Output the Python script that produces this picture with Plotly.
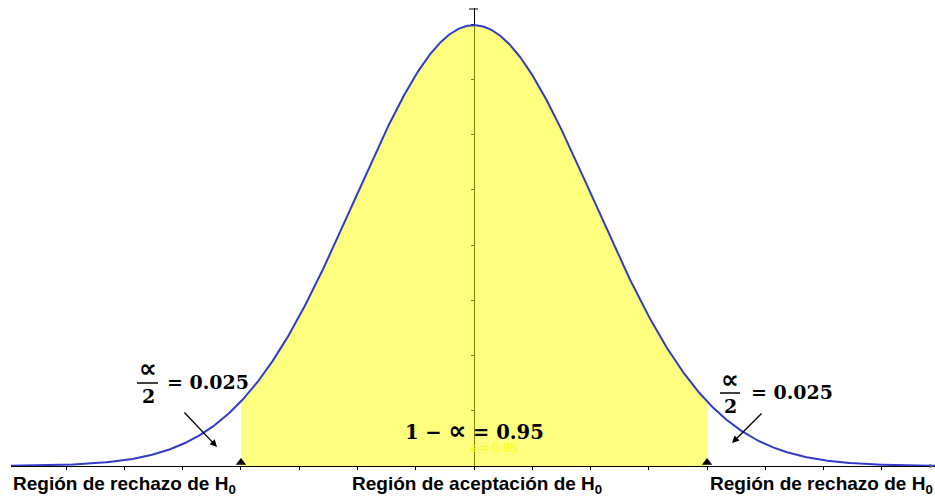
import numpy as np
import plotly.graph_objects as go

# ---- data ----
mu = 0.0
sigma = 1.0
z_crit = 1.96
alpha = 0.05
x_min, x_max = -3.894, 3.877
x_tick_step = 0.49
y_tick_step = 0.05
y_top = 0.4145
label_left = "Región de rechazo de H<sub>0</sub>"
label_mid = "Región de aceptación de H<sub>0</sub>"
label_right = "Región de rechazo de H<sub>0</sub>"
eq_tail = "= 0.025"
PROP = "<span style='font-family:DejaVu Sans;font-size:25px'>∝</span>"
eq_mid = "1 − " + PROP + " = 0.95"
small_note = "a = 0.95"

x_all = np.linspace(x_min, x_max, 800)
pdf_all = np.exp(-0.5 * ((x_all - mu) / sigma) ** 2) / (sigma * np.sqrt(2 * np.pi))
x_acc = np.linspace(-z_crit, z_crit, 500)
pdf_acc = np.exp(-0.5 * ((x_acc - mu) / sigma) ** 2) / (sigma * np.sqrt(2 * np.pi))

# pixel helpers for label placement (plot area: x 11..935, y 8..466)
X0, UX, Y0, UY = 474.0, 118.9, 466.0, 1105.0
def px(x):
    return (x - X0) / UX
def py(y):
    return (Y0 - y) / UY
def ppx(x):
    return (x - 11) / 924.0
def ppy(y):
    return (466 - y) / 458.0

fig = go.Figure()
fig.add_trace(go.Scatter(x=x_acc, y=pdf_acc, mode="lines", line=dict(width=0),
                         fill="tozeroy", fillcolor="rgba(255,255,0,0.5)",
                         hoverinfo="skip", showlegend=False))
fig.add_trace(go.Scatter(x=x_all, y=pdf_all, mode="lines",
                         line=dict(color="rgb(48,60,200)", width=2),
                         showlegend=False, cliponaxis=False))
fig.add_trace(go.Scatter(x=[-z_crit, z_crit], y=[py(462.5), py(462.5)], mode="markers",
                         marker=dict(symbol="triangle-up", size=9, color="black"),
                         showlegend=False, cliponaxis=False))

SERIF = "DejaVu Serif"
ann = []
def txt(x, y, t, size=19, family=SERIF, xanchor="center", color="black", bold=True):
    ann.append(dict(x=ppx(x), y=ppy(y), xref="paper", yref="paper",
                    text=(f"<b>{t}</b>" if bold else t),
                    showarrow=False, xanchor=xanchor, yanchor="middle",
                    font=dict(family=family, size=size, color=color)))

# middle equation
txt(474, 430, eq_mid, size=19.5)
# left fraction
txt(148, 368, PROP)
txt(148, 396, "2")
txt(165, 382, eq_tail, xanchor="left")
# right fraction
txt(730, 379, PROP)
txt(730, 406, "2")
txt(749, 392, eq_tail, xanchor="left")
# tiny note
txt(493, 447, small_note, size=13, family="Liberation Sans", color="rgb(255,255,0)", bold=False)
# bottom labels
SANS = "Liberation Sans"
txt(11, 485, label_left, size=19, family=SANS, xanchor="left")
txt(477, 485, label_mid, size=19, family=SANS)
txt(708, 485, label_right, size=19, family=SANS, xanchor="left")

# arrows
ann.append(dict(x=px(217), y=py(447), ax=px(183), ay=py(411), xref="x", yref="y",
                axref="x", ayref="y", showarrow=True, arrowhead=2, arrowsize=1.1,
                arrowwidth=1.3, arrowcolor="black", standoff=0, text=""))
ann.append(dict(x=px(732), y=py(443), ax=px(763), ay=py(412), xref="x", yref="y",
                axref="x", ayref="y", showarrow=True, arrowhead=2, arrowsize=1.1,
                arrowwidth=1.3, arrowcolor="black", standoff=0, text=""))
# x-axis end arrow
ann.append(dict(x=1.0, y=0, ax=-6, ay=0, xref="paper", yref="paper",
                showarrow=True, arrowhead=2, arrowsize=0.9,
                arrowwidth=1, arrowcolor="rgb(80,90,150)", standoff=0, text=""))

shapes = [
    dict(type="line", xref="x", yref="y", x0=px(137), x1=px(158), y0=py(383), y1=py(383),
         line=dict(color="black", width=1.5)),
    dict(type="line", xref="x", yref="y", x0=px(720), x1=px(740), y0=py(393), y1=py(393),
         line=dict(color="black", width=1.5)),
    dict(type="line", xref="x", yref="y", x0=px(469), x1=px(478), y0=py(9), y1=py(9),
         line=dict(color="black", width=1)),
]

ypos = (0 - x_min) / (x_max - x_min)
fig.update_layout(
    width=935, height=497,
    margin=dict(l=11, r=0, t=8, b=31),
    paper_bgcolor="white", plot_bgcolor="white",
    annotations=ann, shapes=shapes,
    xaxis=dict(range=[x_min, x_max], showgrid=False, zeroline=False, showline=True,
               linecolor="black", linewidth=1, ticks="outside", ticklen=3, tickcolor="black",
               tick0=0, dtick=x_tick_step, showticklabels=False, layer="below traces"),
    yaxis=dict(range=[0, y_top], showgrid=False, zeroline=False, showline=True,
               linecolor="black", linewidth=1, ticks="outside", ticklen=3, tickcolor="black",
               tick0=0, dtick=y_tick_step, showticklabels=False, anchor="free",
               position=ypos, layer="below traces"),
)
fig.write_html("out.html", config={"displayModeBar": False},
               post_script="document.body.style.margin='0';document.body.style.overflow='hidden';")
